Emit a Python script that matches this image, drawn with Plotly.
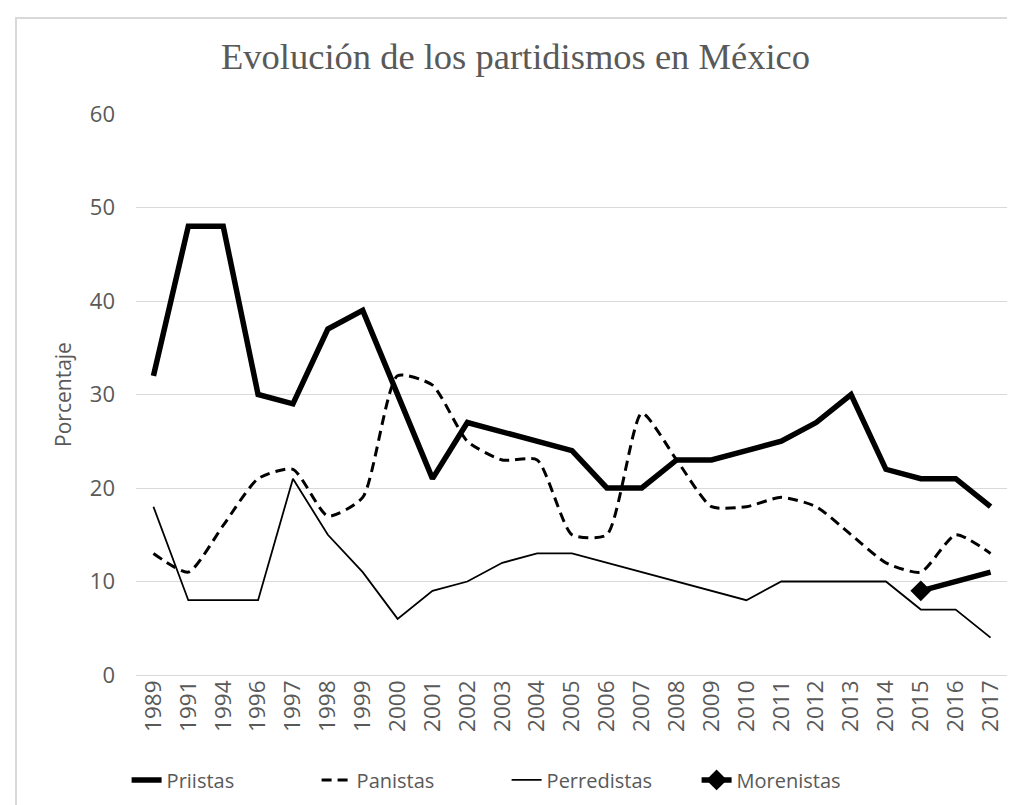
import plotly.graph_objects as go

years = ['1989', '1991', '1994', '1996', '1997', '1998', '1999', '2000', '2001', '2002',
         '2003', '2004', '2005', '2006', '2007', '2008', '2009', '2010', '2011', '2012',
         '2013', '2014', '2015', '2016', '2017']
priistas = [32, 48, 48, 30, 29, 37, 39, 30, 21, 27, 26, 25, 24, 20, 20, 23, 23, 24, 25, 27, 30, 22, 21, 21, 18]
panistas = [13, 11, 16, 21, 22, 17, 19, 32, 31, 25, 23, 23, 15, 15, 28, 23, 18, 18, 19, 18, 15, 12, 11, 15, 13]
perredistas = [18, 8, 8, 8, 21, 15, 11, 6, 9, 10, 12, 13, 13, 12, 11, 10, 9, 8, 10, 10, 10, 10, 7, 7, 4]
morenistas_years = ['2015', '2016', '2017']
morenistas = [9, 10, 11]

gray = '#595959'
font = 'Open Sans, Noto Sans, sans-serif'

fig = go.Figure()
fig.add_trace(go.Scatter(x=years, y=priistas, mode='lines', name='Priistas',
                         line=dict(color='black', width=5.5)))
fig.add_trace(go.Scatter(x=years, y=panistas, mode='lines', name='Panistas',
                         line=dict(color='black', width=3, dash='10px,6px', shape='spline', smoothing=0.6)))
fig.add_trace(go.Scatter(x=years, y=perredistas, mode='lines', name='Perredistas',
                         line=dict(color='black', width=1.8)))
# only the first point of Morenistas carries the diamond
fig.add_trace(go.Scatter(x=morenistas_years, y=morenistas, mode='lines+markers', name='Morenistas',
                         line=dict(color='black', width=5.5),
                         marker=dict(symbol='diamond', size=16,
                                     color=['black', 'rgba(0,0,0,0)', 'rgba(0,0,0,0)'],
                                     line=dict(width=0))))

fig.update_layout(
    width=1015, height=805,
    paper_bgcolor='white', plot_bgcolor='white',
    margin=dict(l=128, r=15, t=106, b=138),
    title=dict(text='Evolución de los partidismos en México', x=0.5, xanchor='center',
               y=0.94, yanchor='middle',
               font=dict(family='Liberation Serif, Times New Roman, serif', size=36.5, color=gray)),
    font=dict(family=font, color=gray, size=20),
    showlegend=True,
    legend=dict(orientation='h', x=0.425, xanchor='center', y=-0.187, yanchor='middle',
                font=dict(size=20, color=gray), tracegroupgap=0, entrywidth=145),
    shapes=[dict(type='rect', xref='paper', yref='paper',
                 x0=-120 / 872, x1=1.2, y0=-0.5, y1=1 + 96 / 561,
                 line=dict(color='#d9d9d9', width=2))],
)
fig.update_xaxes(type='category', tickangle=-90, range=[-0.5, 24.5], showgrid=False,
                 showline=False, ticks='', tickfont=dict(size=22.5, color=gray))
fig.update_yaxes(range=[0, 60], dtick=10, showgrid=True, gridcolor='#d9d9d9', gridwidth=1,
                 zeroline=True, zerolinecolor='#d9d9d9', zerolinewidth=1,
                 title=dict(text='Porcentaje', font=dict(size=21, color=gray), standoff=12),
                 tickfont=dict(size=22, color=gray), ticks='', ticklabelstandoff=20)

fig.write_html('out.html')
